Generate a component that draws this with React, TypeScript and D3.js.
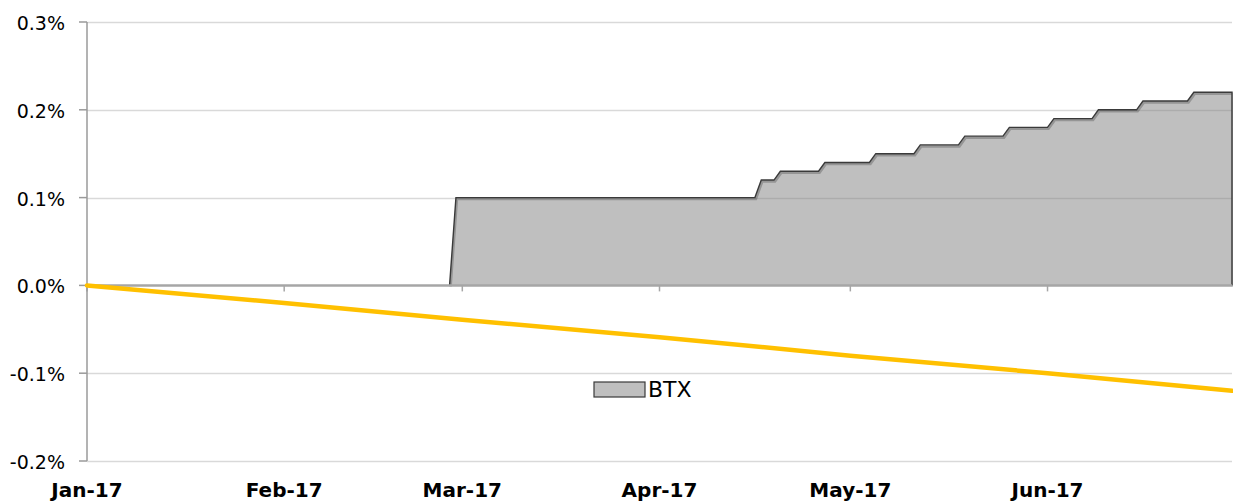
import { useEffect, useRef } from "react";
import * as d3 from "d3";

// BTX step series (vertices)
const btxDates = [
  "2017-01-01", "2017-02-27", "2017-02-28", "2017-04-16", "2017-04-17",
  "2017-04-19", "2017-04-20", "2017-04-26", "2017-04-27", "2017-05-04",
  "2017-05-05", "2017-05-11", "2017-05-12", "2017-05-18", "2017-05-19",
  "2017-05-25", "2017-05-26", "2017-06-01", "2017-06-02", "2017-06-08",
  "2017-06-09", "2017-06-15", "2017-06-16", "2017-06-23", "2017-06-24",
  "2017-06-30",
];
const btxValues = [
  0, 0, 0.1, 0.1, 0.12,
  0.12, 0.13, 0.13, 0.14, 0.14,
  0.15, 0.15, 0.16, 0.16, 0.17,
  0.17, 0.18, 0.18, 0.19, 0.19,
  0.2, 0.2, 0.21, 0.21, 0.22,
  0.22,
];

// yellow line
const lineDates = [
  "2017-01-01", "2017-02-01", "2017-03-01", "2017-04-01",
  "2017-05-01", "2017-06-01", "2017-06-30",
];
const lineValues = [0, -0.02, -0.039, -0.059, -0.08, -0.1, -0.12];

const monthTicks = [
  "2017-01-01", "2017-02-01", "2017-03-01",
  "2017-04-01", "2017-05-01", "2017-06-01",
];
const monthLabels = ["Jan-17", "Feb-17", "Mar-17", "Apr-17", "May-17", "Jun-17"];
const yTicks = [-0.2, -0.1, 0, 0.1, 0.2, 0.3];

const W = 1233;
const H = 502;
const FONT = "'DejaVu Sans', Verdana, sans-serif";

export default function App() {
  const svgRef = useRef<SVGSVGElement>(null);

  useEffect(() => {
    const svgEl = svgRef.current;
    if (!svgEl) return;
    const svg = d3.select(svgEl);
    svg.selectAll("*").remove();

    const left = 87;
    const right = 1232;
    const top = 22;
    const bottom = 461;

    const x = d3
      .scaleUtc()
      .domain([new Date("2017-01-01"), new Date("2017-06-30")])
      .range([left, right]);
    const y = d3.scaleLinear().domain([-0.2, 0.3]).range([bottom, top]);

    const btx = btxDates.map((d, i) => ({ date: new Date(d), value: btxValues[i] }));
    const yellow = lineDates.map((d, i) => ({ date: new Date(d), value: lineValues[i] }));

    // grid
    svg
      .append("g")
      .selectAll("line")
      .data(yTicks.filter((t) => t !== 0))
      .enter()
      .append("line")
      .attr("x1", left)
      .attr("x2", right)
      .attr("y1", (d) => Math.round(y(d)) + 0.5)
      .attr("y2", (d) => Math.round(y(d)) + 0.5)
      .attr("stroke", "#d9d9d9")
      .attr("stroke-width", 1.5);

    // area
    const area = d3
      .area<{ date: Date; value: number }>()
      .x((d) => x(d.date))
      .y0(y(0))
      .y1((d) => y(d.value));
    svg
      .append("path")
      .datum(btx)
      .attr("d", area)
      .attr("fill", "#808080")
      .attr("fill-opacity", 0.5);

    const last = btx[btx.length - 1];
    const line = d3
      .line<{ date: Date; value: number }>()
      .x((d) => x(d.date))
      .y((d) => y(d.value));
    // outline only where the series leaves zero
    const btxTop = line(btx.slice(1)) + `L${x(last.date)},${y(0)}`;
    svg
      .append("path")
      .attr("d", btxTop)
      .attr("fill", "none")
      .attr("stroke", "#000")
      .attr("stroke-opacity", 0.22)
      .attr("stroke-width", 2.5)
      .attr("transform", "translate(1,1.5)");
    svg
      .append("path")
      .attr("d", btxTop)
      .attr("fill", "none")
      .attr("stroke", "#3a3a3a")
      .attr("stroke-width", 1.4);

    // zero axis
    svg
      .append("line")
      .attr("x1", left)
      .attr("x2", right)
      .attr("y1", y(0))
      .attr("y2", y(0))
      .attr("stroke", "#a6a6a6")
      .attr("stroke-width", 2.5);
    svg
      .append("g")
      .selectAll("line")
      .data(monthTicks)
      .enter()
      .append("line")
      .attr("x1", (d) => x(new Date(d)))
      .attr("x2", (d) => x(new Date(d)))
      .attr("y1", y(0))
      .attr("y2", y(0) + 6)
      .attr("stroke", "#a6a6a6")
      .attr("stroke-width", 1.5);

    // left axis
    svg
      .append("line")
      .attr("x1", left)
      .attr("x2", left)
      .attr("y1", top)
      .attr("y2", bottom)
      .attr("stroke", "#9a9a9a")
      .attr("stroke-width", 1.5);
    const yAx = svg.append("g");
    yAx
      .selectAll("line")
      .data(yTicks)
      .enter()
      .append("line")
      .attr("x1", left - 8)
      .attr("x2", left)
      .attr("y1", (d) => y(d))
      .attr("y2", (d) => y(d))
      .attr("stroke", "#9a9a9a")
      .attr("stroke-width", 1.5);
    yAx
      .selectAll("text")
      .data(yTicks)
      .enter()
      .append("text")
      .attr("x", 65)
      .attr("y", (d) => y(d) + 8)
      .attr("text-anchor", "end")
      .attr("font-family", FONT)
      .attr("font-size", 19)
      .attr("fill", "#000")
      .text((d) => `${d.toFixed(1)}%`);

    // yellow line
    svg
      .append("path")
      .datum(yellow)
      .attr("d", line)
      .attr("fill", "none")
      .attr("stroke", "#ffc000")
      .attr("stroke-width", 4.5)
      .attr("stroke-linecap", "round");

    // x labels
    svg
      .append("g")
      .selectAll("text")
      .data(monthTicks)
      .enter()
      .append("text")
      .attr("x", (d) => x(new Date(d)))
      .attr("y", 497)
      .attr("text-anchor", "middle")
      .attr("font-family", FONT)
      .attr("font-weight", "bold")
      .attr("font-size", 20)
      .attr("fill", "#000")
      .text((_, i) => monthLabels[i]);

    // legend
    const lg = svg.append("g").attr("transform", "translate(594,382)");
    lg.append("rect")
      .attr("width", 51)
      .attr("height", 15)
      .attr("fill", "#bfbfbf")
      .attr("stroke", "#3a3a3a")
      .attr("stroke-width", 1.2);
    lg.append("text")
      .attr("x", 54)
      .attr("y", 15)
      .attr("font-family", FONT)
      .attr("font-size", 22)
      .attr("fill", "#000")
      .text("BTX");
  }, []);

  return (
    <svg
      ref={svgRef}
      width={W}
      height={H}
      style={{ position: "absolute", left: 0, top: 0, display: "block", background: "#fff" }}
    />
  );
}
